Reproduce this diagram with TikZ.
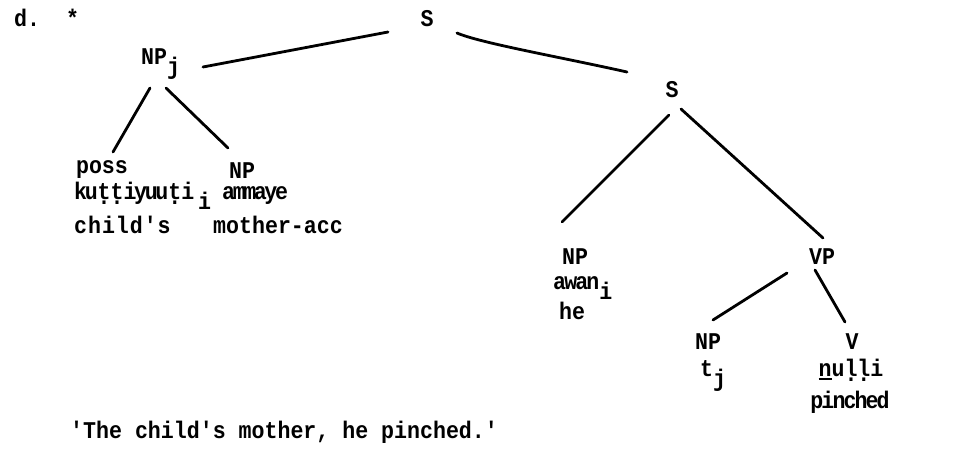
\documentclass[tikz,border=0pt]{standalone}
\usepackage{fontspec}
\setmonofont{Liberation Mono}[FakeStretch=0.9]
\newfontfamily\tightA{Liberation Mono}[FakeStretch=0.9,LetterSpace=-10]
\newfontfamily\tightB{Liberation Mono}[FakeStretch=0.9,LetterSpace=-8]
\newfontfamily\wideA{Liberation Mono}[FakeStretch=0.9,LetterSpace=4]
\usetikzlibrary{calc}
\newcommand\udot[1]{\leavevmode\vtop{\offinterlineskip\halign{\hfil##\hfil\cr#1\cr\noalign{\kern0.06em}.\cr}}}
\newcommand\ubar[1]{\leavevmode\vtop{\offinterlineskip\halign{##\cr#1\cr\noalign{\kern2pt\hrule height1.6pt}}}}
\newcommand\sbs[1]{\raisebox{-0.45em}{#1}}
\begin{document}
\begin{tikzpicture}[x=1pt,y=1pt,
  lab/.style={inner sep=0pt,font=\fontsize{24}{26}\selectfont\ttfamily\bfseries},
  br/.style={line width=2.8pt,line cap=round}]
\useasboundingbox (0,0) rectangle (966,-471);
% nodes
\node[lab,anchor=base west] (ex) at (14,-27) {d.~~*};
\node[lab,anchor=base] (S1) at (427,-27) {S};
\node[lab,anchor=base west] (NPj) at (141,-64) {NP\sbs{j}};
\node[lab,anchor=base] (S2) at (672,-97) {S};
\node[lab,anchor=base] (poss) at (102,-173) {poss};
\node[lab,anchor=base] (NPb) at (242,-178) {NP};
\node[lab,anchor=base west] (kutt) at (74,-199) {{\tightA\bfseries ku\udot{t}\udot{t}iyuu\udot{t}i}\,\sbs{i}};
\node[lab,anchor=base west] (amm) at (222,-199) {\tightA\bfseries ammaye};
\node[lab,anchor=base west] (childs) at (74,-233) {\wideA\bfseries child's};
\node[lab,anchor=base west] (macc) at (213,-233) {mother-acc};
\node[lab,anchor=base] (NPc) at (575,-264) {NP};
\node[lab,anchor=base west] (awan) at (553,-289) {{\tightB\bfseries awan}\sbs{i}};
\node[lab,anchor=base] (he) at (572,-319) {he};
\node[lab,anchor=base] (VP) at (822,-264) {VP};
\node[lab,anchor=base] (NPd) at (708,-349) {NP};
\node[lab,anchor=base west] (tj) at (700,-376) {t\sbs{j}};
\node[lab,anchor=base] (V) at (852,-349) {V};
\node[lab,anchor=base] (nulli) at (851,-376) {\ubar{n}u\udot{l}\udot{l}i};
\node[lab,anchor=base] (pinched) at (850,-408) {\tightB\bfseries pinched};
\node[lab,anchor=base west] (gloss) at (70,-438) {'The child's mother, he pinched.'};
% branches
\draw[br] ($(S1.base)+(-39,-5)$) -- ($(NPj.base west)+(62,-3)$);
\draw[br] ($(S1.base)+(30,-6)$) .. controls ($(S1.base)+(53,-16)$) and ($(S2.base)+(-112,40)$) .. ($(S2.base)+(-45,25)$);
\draw[br] ($(NPj.base west)+(9,-24)$) -- ($(poss.base)+(11,21)$);
\draw[br] ($(NPj.base west)+(25,-24)$) -- ($(NPb.base)+(-14,30)$);
\draw[br] ($(S2.base)+(-3,-18)$) -- ($(NPc.base)+(-13,42)$);
\draw[br] ($(S2.base)+(9,-12)$) -- ($(VP.base)+(1,26)$);
\draw[br] ($(VP.base)+(-35,-9)$) -- ($(NPd.base)+(5,29)$);
\draw[br] ($(VP.base)+(-7,-6)$) -- ($(V.base)+(-7,27)$);
\end{tikzpicture}
\end{document}
